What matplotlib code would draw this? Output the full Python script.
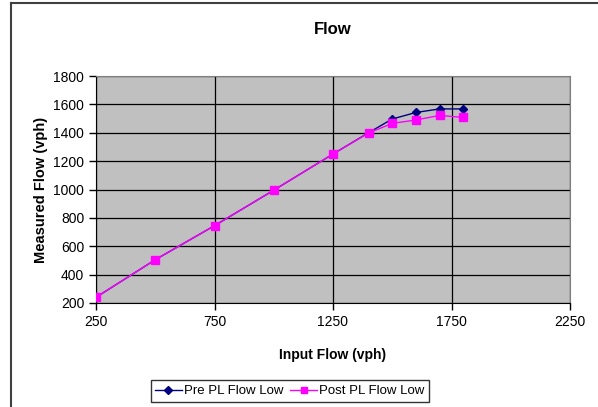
import matplotlib
matplotlib.use("Agg")
import matplotlib.pyplot as plt
from matplotlib.lines import Line2D

plt.rcParams['font.family'] = ['Liberation Sans', 'DejaVu Sans']

# Datos
input_flow = [250, 500, 750, 1000, 1250, 1400, 1500, 1600, 1700, 1800]
pre_pl_low = [240, 505, 745, 995, 1250, 1400, 1497, 1543, 1568, 1568]
post_pl_low = [240, 505, 745, 995, 1250, 1398, 1466, 1490, 1522, 1508]

x_ticks = [250, 750, 1250, 1750, 2250]
y_ticks = [200, 400, 600, 800, 1000, 1200, 1400, 1600, 1800]

fig = plt.figure(figsize=(5.98, 4.07), dpi=100)
ax = fig.add_axes([96 / 598, 1 - 303 / 407, (570 - 96) / 598, (303 - 76) / 407])
ax.set_facecolor('#C0C0C0')

ax.plot(input_flow, pre_pl_low, color='#000080', marker='D', markersize=4.5,
        linewidth=1, label='Pre PL Flow Low', zorder=3)
ax.plot(input_flow, post_pl_low, color='#FF00FF', marker='s', markersize=5.5,
        linewidth=1, label='Post PL Flow Low', zorder=4)

ax.set_xlim(250, 2250)
ax.set_ylim(200, 1800)
ax.set_xticks(x_ticks)
ax.set_yticks(y_ticks)
ax.grid(True, color='black', linewidth=0.9)
ax.set_axisbelow(True)
ax.tick_params(direction='out', length=5, width=1, colors='black', labelsize=10)
for s in ['top', 'right']:
    ax.spines[s].set_color('#808080')
for s in ['left', 'bottom']:
    ax.spines[s].set_color('black')

ax.set_title('Flow', fontsize=12, fontweight='bold', pad=30)
ax.set_xlabel('Input Flow (vph)', fontsize=10, fontweight='bold', labelpad=14)
ax.set_ylabel('Measured Flow (vph)', fontsize=10.5, fontweight='bold', labelpad=4)

leg = fig.legend(loc='center', bbox_to_anchor=(290 / 598, 1 - 391 / 407), ncol=2,
                 fontsize=9.5, frameon=True, fancybox=False, edgecolor='black',
                 handlelength=2.0, columnspacing=0.5, handletextpad=0.2,
                 borderpad=0.35, markerscale=0.8)
leg.get_frame().set_linewidth(1)

# borde del área del gráfico (recortado a la derecha y abajo)
fig.add_artist(Line2D([11 / 598, 11 / 598], [0, 1 - 3 / 407], color='#404040', linewidth=1.5))
fig.add_artist(Line2D([11 / 598, 1], [1 - 3 / 407, 1 - 3 / 407], color='#404040', linewidth=1.5))

fig.savefig('out.png', dpi=100)
